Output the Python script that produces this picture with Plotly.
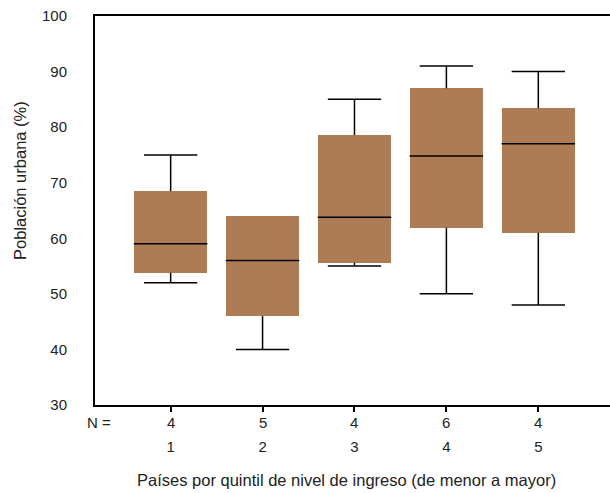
import plotly.graph_objects as go

# Income quintile groups and number of countries in each
quintiles = [1, 2, 3, 4, 5]
n_countries = [4, 5, 4, 6, 4]

# Box-plot summary statistics of urban population share (%)
lower_whisker = [52.0, 40.0, 55.0, 50.0, 48.0]
q1 = [53.8, 46.0, 55.6, 61.9, 61.0]
median = [59.0, 56.0, 63.8, 74.8, 77.0]
q3 = [68.5, 64.0, 78.6, 87.0, 83.4]
upper_whisker = [75.0, 64.0, 85.0, 91.0, 90.0]

BOX_FILL = "#AD7C55"
BOX_WIDTH = 0.8
CAP_WIDTH = 0.58
FONT = "Liberation Sans, Arial, sans-serif"
TEXT = "#222"

fig = go.Figure()

# Interquartile boxes
fig.add_trace(go.Bar(
    x=quintiles,
    y=[b - a for a, b in zip(q1, q3)],
    base=q1,
    width=BOX_WIDTH,
    marker=dict(color=BOX_FILL, line=dict(width=0)),
    hoverinfo="skip",
    showlegend=False,
))

# Whiskers, caps and medians as line segments
wx, wy = [], []
for x, lo, a, m, b, hi in zip(quintiles, lower_whisker, q1, median, q3, upper_whisker):
    if hi > b:
        wx += [x, x, None, x - CAP_WIDTH / 2, x + CAP_WIDTH / 2, None]
        wy += [b, hi, None, hi, hi, None]
    if lo < a:
        wx += [x, x, None, x - CAP_WIDTH / 2, x + CAP_WIDTH / 2, None]
        wy += [a, lo, None, lo, lo, None]
    wx += [x - BOX_WIDTH / 2, x + BOX_WIDTH / 2, None]
    wy += [m, m, None]

fig.add_trace(go.Scatter(
    x=wx, y=wy, mode="lines",
    line=dict(color="black", width=1.5),
    hoverinfo="skip", showlegend=False,
))

# Row of sample sizes under the axis
annotations = [
    dict(x=x, y=-0.019, xref="x", yref="paper", text=str(n),
         showarrow=False, yanchor="top", font=dict(size=15, color=TEXT))
    for x, n in zip(quintiles, n_countries)
]
annotations.append(dict(
    x=0.008, y=-0.019, xref="paper", yref="paper", text="N =",
    showarrow=False, xanchor="center", yanchor="top",
    font=dict(size=15, color=TEXT),
))
# Axis titles
annotations.append(dict(
    x=-0.1456, y=0.576, xref="paper", yref="paper", text="Población urbana (%)",
    textangle=-90, showarrow=False, xanchor="center", yanchor="middle",
    font=dict(size=16.5, color=TEXT),
))
annotations.append(dict(
    x=0.489, y=-0.193, xref="paper", yref="paper",
    text="Países por quintil de nivel de ingreso (de menor a mayor)",
    showarrow=False, xanchor="center", yanchor="middle",
    font=dict(size=16.5, color=TEXT),
))

fig.update_layout(
    width=610, height=493,
    margin=dict(l=95, r=0, t=16, b=88),
    paper_bgcolor="white", plot_bgcolor="white",
    font=dict(family=FONT, size=15, color=TEXT),
    bargap=0,
    annotations=annotations,
    xaxis=dict(
        range=[0.177, 5.78],
        tickmode="array", tickvals=quintiles,
        ticktext=[str(q) for q in quintiles],
        ticks="outside", ticklen=5, tickcolor="black", tickwidth=1.5,
        showline=True, linecolor="black", linewidth=2, mirror=True,
        showgrid=False, zeroline=False,
        ticklabelstandoff=22,
    ),
    yaxis=dict(
        range=[30, 100],
        tickvals=[30, 40, 50, 60, 70, 80, 90, 100],
        ticks="", showline=True, linecolor="black", linewidth=2,
        showgrid=False, zeroline=False,
        ticklabelstandoff=23,
    ),
)

fig.write_html("out.html")
